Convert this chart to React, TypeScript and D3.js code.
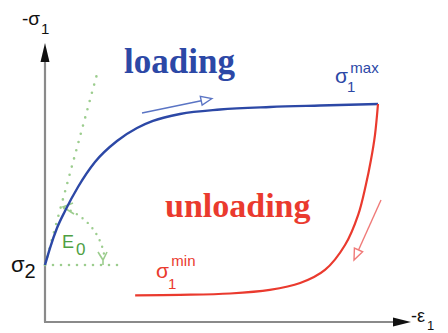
import React from "react";
import * as d3 from "d3";

const loadingX = [0, 1.37, 3.29, 5.48, 9.04, 13.7, 19.73, 25.21, 29.59, 36.99, 47.95, 61.64, 75.34, 91.23];
const loadingY = [20.8, 27.0, 34.31, 40.51, 49.27, 58.4, 66.06, 70.8, 73.36, 75.91, 77.55, 78.47, 79.01, 79.56];
const unloadingX = [91.23, 90.4, 89.3, 87.9, 85.8, 82.2, 76.7, 69.9, 61.6, 50.7, 37.0, 24.7];
const unloadingY = [79.56, 68.2, 59.1, 50.0, 39.1, 28.1, 19.0, 14.2, 11.7, 10.4, 9.9, 9.7];
const labels = { loading: "loading", unloading: "unloading", e0: "E", e0sub: "0" };

const W = 448, H = 333;
const x = d3.scaleLinear().domain([0, 100]).range([45, 410]);
const y = d3.scaleLinear().domain([0, 100]).range([322, 48]);

const BLUE = "#2c48a6";
const RED = "#ea3a2e";
const GREEN = "#4ea043";
const DOT = "#9ccd8e";
const SANS = "Liberation Sans, Arial, sans-serif";
const SERIF = "Liberation Serif, Times New Roman, serif";

function openArrow(x1: number, y1: number, x2: number, y2: number, color: string, len = 11, half = 4.5) {
  const a = Math.atan2(y2 - y1, x2 - x1);
  const bx = x2 - len * Math.cos(a), by = y2 - len * Math.sin(a);
  const px = -Math.sin(a) * half, py = Math.cos(a) * half;
  return (
    <g stroke={color} fill="white" strokeWidth={1.4}>
      <line x1={x1} y1={y1} x2={bx} y2={by} />
      <polygon points={`${x2},${y2} ${bx + px},${by + py} ${bx - px},${by - py}`} />
    </g>
  );
}

export default function App() {
  const lineX = d3.line<[number, number]>().x(d => x(d[0])).y(d => y(d[1])).curve(d3.curveMonotoneX);
  const lineR = d3.line<[number, number]>().x(d => x(d[0])).y(d => y(d[1])).curve(d3.curveCatmullRom.alpha(0.5));
  const loadPts = loadingX.map((v, i) => [v, loadingY[i]] as [number, number]);
  const unloadPts = unloadingX.map((v, i) => [v, unloadingY[i]] as [number, number]);

  const ox = x(0), oy = y(loadingY[0]);
  const tx2 = 96.5, ty2 = 76;
  const r = 60;
  const a1 = Math.atan2(ty2 - oy, tx2 - ox) + 0.06;
  const a2 = -0.14;
  const arc = d3.path();
  arc.arc(ox, oy, r, a1, a2, false);

  return (
    <svg width={W} height={H} style={{ position: "absolute", left: 0, top: 0, background: "white" }}>
      {/* axes */}
      <line x1={x(0)} y1={y(0)} x2={x(0)} y2={58} stroke="#8a8a8a" strokeWidth={2.2} />
      <line x1={x(0) - 1} y1={y(0)} x2={398} y2={y(0)} stroke="#8a8a8a" strokeWidth={2.2} />
      <polygon points={`${x(0)},43 ${x(0) - 4.5},62 ${x(0) + 4.5},62`} fill="#111" />
      <polygon points={`411,${y(0)} 393,${y(0) - 4.5} 393,${y(0) + 4.5}`} fill="#111" />

      {/* green dotted guides */}
      <line x1={ox} y1={oy} x2={124} y2={oy} stroke={DOT} strokeWidth={2.6} strokeDasharray="0 8" strokeLinecap="round" />
      <line x1={ox} y1={oy} x2={tx2} y2={ty2} stroke={DOT} strokeWidth={2.6} strokeDasharray="0 8.5" strokeLinecap="round" />
      <path d={arc.toString()} fill="none" stroke={DOT} strokeWidth={2.4} strokeDasharray="0 7" strokeLinecap="round" />
      <path d="M 73,203 L 63,207 L 74,214" fill="none" stroke={DOT} strokeWidth={1.6} />
      <path d="M 98,252 L 103,260 L 107,252 M 103,260 L 103,265" fill="none" stroke={DOT} strokeWidth={1.6} />

      {/* curves */}
      <path d={lineX(loadPts) || ""} fill="none" stroke={BLUE} strokeWidth={2.4} />
      <path d={lineR(unloadPts) || ""} fill="none" stroke={RED} strokeWidth={2.2} />

      {/* direction arrows */}
      {openArrow(142, 113, 212, 98.5, "#5a74c4")}
      {openArrow(381, 200, 354, 260, "#f07a78")}

      {/* titles */}
      <text x={124} y={73} fontFamily={SERIF} fontWeight="bold" fontSize={35} fill={BLUE}>{labels.loading}</text>
      <text x={165} y={217} fontFamily={SERIF} fontWeight="bold" fontSize={34} fill={RED}>{labels.unloading}</text>

      {/* E0 */}
      <text x={62} y={248} fontFamily={SANS} fontSize={18} fill={GREEN}>{labels.e0}<tspan fontSize={17} dx={2} dy={7}>{labels.e0sub}</tspan></text>

      {/* axis labels */}
      <text x={22} y={25} fontFamily={SANS} fontSize={19} fill="#111">-σ<tspan fontSize={15} dy={9} dx={1}>1</tspan></text>
      <text x={11} y={272} fontFamily={SANS} fontSize={22} fill="#111">σ<tspan fontSize={20} dy={6}>2</tspan></text>
      <text x={411} y={322} fontFamily={SANS} fontSize={18} fill="#111">-ε<tspan fontSize={13} dy={8} dx={2}>1</tspan></text>

      {/* sigma max / min */}
      <text x={335} y={83} fontFamily={SANS} fontSize={21} fill={BLUE}>σ<tspan fontSize={15} dx={-1} dy={9}>1</tspan><tspan fontSize={15} dx={-5} dy={-19}>max</tspan></text>
      <text x={156} y={278} fontFamily={SANS} fontSize={21} fill={RED}>σ<tspan fontSize={15} dx={-1} dy={11}>1</tspan><tspan fontSize={15} dx={-5} dy={-23}>min</tspan></text>
    </svg>
  );
}
